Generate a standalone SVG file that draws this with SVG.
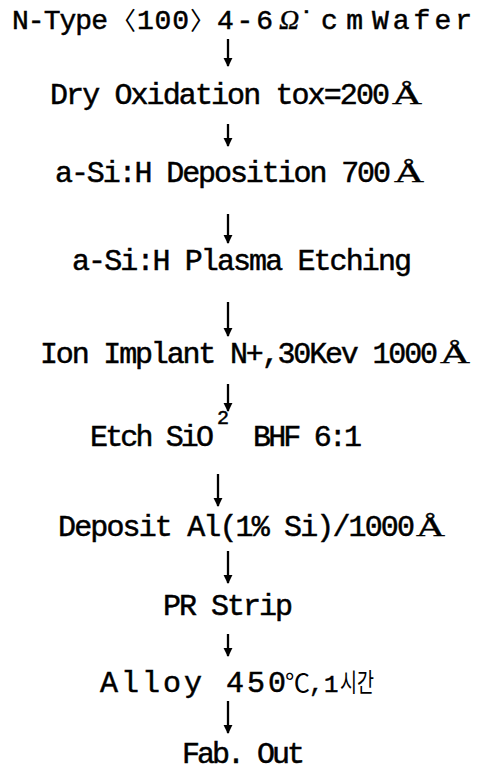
<svg xmlns="http://www.w3.org/2000/svg" width="482" height="772" viewBox="0 0 482 772">
<style>
.t{font-family:"Liberation Mono","DejaVu Sans Mono",monospace;font-size:30px;fill:#000;stroke:#000;stroke-width:0.5px}
.s{font-family:"Liberation Serif",serif;fill:#000;stroke:#000;stroke-width:0.4px}
.k{font-family:"Noto Sans CJK KR","Noto Sans CJK SC",sans-serif;fill:#000}
.b{font-family:"Noto Sans CJK KR","DejaVu Sans",sans-serif;fill:#000;font-size:25px}
.c line{stroke:#000;stroke-width:2.3}
</style>
<defs>
<marker id="ah" viewBox="0 0 10 10" refX="9" refY="5" markerWidth="4" markerHeight="4" markerUnits="strokeWidth" orient="auto">
<path d="M0,0 L10,5 L0,10 z" fill="#000"/>
</marker>
</defs>
<rect width="482" height="772" fill="#fff"/>
<g id="connectors" class="c">
<line x1="228" y1="39" x2="228" y2="66" marker-end="url(#ah)"/>
<line x1="228" y1="124" x2="228" y2="146" marker-end="url(#ah)"/>
<line x1="228" y1="214" x2="228" y2="243" marker-end="url(#ah)"/>
<line x1="228" y1="302" x2="228" y2="336" marker-end="url(#ah)"/>
<line x1="228" y1="384" x2="228" y2="411" marker-end="url(#ah)"/>
<line x1="218" y1="474" x2="218" y2="506" marker-end="url(#ah)"/>
<line x1="228" y1="551" x2="228" y2="583" marker-end="url(#ah)"/>
<line x1="228" y1="634" x2="228" y2="656" marker-end="url(#ah)"/>
<line x1="228" y1="701" x2="228" y2="733" marker-end="url(#ah)"/>
</g>
<g id="n1">
<text class="t" x="12" y="29" style="font-size:28px" textLength="96">N-Type</text>
<text class="b" x="111" y="30">〈</text>
<text class="t" x="137" y="29" style="font-size:28px" textLength="52">100</text>
<text class="b" x="190" y="30">〉</text>
<text class="t" x="217" y="29" style="font-size:28px" textLength="56">4-6</text>
<text class="s" x="279" y="29" style="font-size:28px;font-style:italic">Ω</text>
<text class="t" x="298" y="31" style="font-size:28px">˙</text>
<text class="t" x="321" y="29" style="font-size:28px" textLength="42">cm</text>
<text class="t" x="372" y="29" style="font-size:28px" textLength="100">Wafer</text>
</g>
<g id="n2">
<text class="t" x="50" y="104" textLength="340">Dry Oxidation tox=200</text>
<text class="s" x="392" y="104" style="font-size:27px" textLength="30" lengthAdjust="spacingAndGlyphs">Å</text>
</g>
<g id="n3">
<text class="t" x="55" y="182" textLength="336">a-Si:H Deposition 700</text>
<text class="s" x="394" y="182" style="font-size:27px" textLength="30" lengthAdjust="spacingAndGlyphs">Å</text>
</g>
<g id="n4">
<text class="t" x="72" y="270" textLength="340">a-Si:H Plasma Etching</text>
</g>
<g id="n5">
<text class="t" x="40" y="363" textLength="398">Ion Implant N+,30Kev 1000</text>
<text class="s" x="440" y="363" style="font-size:27px" textLength="30" lengthAdjust="spacingAndGlyphs">Å</text>
</g>
<g id="n6">
<text class="t" x="90" y="446" textLength="124">Etch SiO</text>
<text class="t" x="217" y="424" style="font-size:20px">2</text>
<text class="t" x="253" y="446" textLength="109">BHF 6:1</text>
</g>
<g id="n7">
<text class="t" x="58" y="536" textLength="357">Deposit Al(1% Si)/1000</text>
<text class="s" x="416" y="536" style="font-size:27px" textLength="29" lengthAdjust="spacingAndGlyphs">Å</text>
</g>
<g id="n8">
<text class="t" x="163" y="615" textLength="130">PR Strip</text>
</g>
<g id="n9">
<text class="t" x="100" y="692" textLength="186">Alloy 450</text>
<text class="k" x="285" y="692" style="font-size:25px">℃</text>
<text class="t" x="309" y="692" style="font-size:24px">,</text>
<text class="t" x="324" y="692" style="font-size:24px">1</text>
<text class="k" x="340" y="692" style="font-size:26px" textLength="34" lengthAdjust="spacingAndGlyphs">시간</text>
</g>
<g id="n10">
<text class="t" x="182" y="763" textLength="123">Fab. Out</text>
</g>
</svg>
